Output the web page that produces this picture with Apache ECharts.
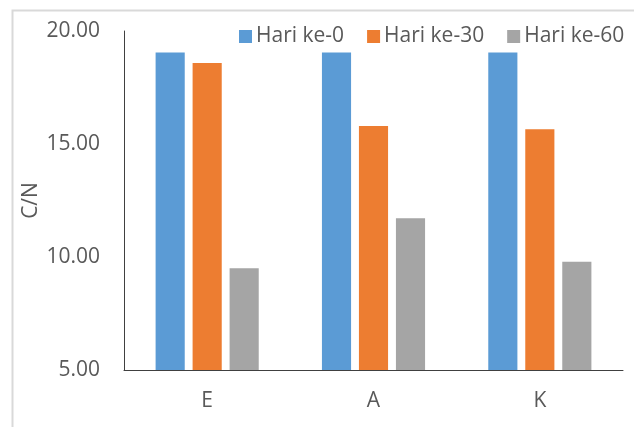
<!DOCTYPE html>
<html>
<head>
<meta charset="utf-8">
<script src="https://cdn.jsdelivr.net/npm/echarts@6/dist/echarts.min.js"></script>
<style>html,body{margin:0;padding:0;background:#fff;}#c{width:634px;height:427px;}</style>
</head>
<body>
<div id="c"></div>
<script>
const categories = ['E', 'A', 'K'];
const seriesNames = ['Hari ke-0', 'Hari ke-30', 'Hari ke-60'];
const hari0 = [19.05, 19.05, 19.05];
const hari30 = [18.58, 15.80, 15.65];
const hari60 = [9.50, 11.71, 9.79];
const yTicks = [5, 10, 15, 20];

const colors = ['#5B9BD5', '#ED7D31', '#A5A5A5'];
const font = 'Open Sans';
const fs = 21;
const chart = echarts.init(document.getElementById('c'));
const values = [hari0, hari30, hari60];
chart.setOption({
  animation: false,
  graphic: [{
    type: 'rect', left: 10, top: 8, silent: true,
    shape: { width: 700, height: 500 },
    style: { fill: 'none', stroke: '#d9d9d9', lineWidth: 2 }
  }],
  legend: {
    left: 234, top: 21, itemWidth: 13, itemHeight: 13, itemGap: 23,
    icon: 'rect',
    textStyle: { fontFamily: font, fontSize: fs, color: '#595959', padding: [0, 0, 0, -1] },
    data: seriesNames
  },
  grid: { left: 124, right: 11, top: 31, bottom: 57 },
  xAxis: {
    type: 'category', data: categories,
    axisLine: { lineStyle: { color: '#404040', width: 1 } },
    axisTick: { show: false },
    axisLabel: { fontFamily: font, fontSize: fs, color: '#595959', margin: 21 }
  },
  yAxis: {
    type: 'value', min: yTicks[0], max: yTicks[yTicks.length - 1], interval: 5,
    name: 'C/N', nameLocation: 'middle', nameGap: 82, nameRotate: 90,
    nameMoveOverlap: false,
    nameTextStyle: { fontFamily: font, fontSize: fs, color: '#595959' },
    axisLine: { show: true, lineStyle: { color: '#404040', width: 1 } },
    axisTick: { show: false },
    splitLine: { show: false },
    axisLabel: { fontFamily: font, fontSize: fs, color: '#595959', margin: 24,
      formatter: v => v.toFixed(2) }
  },
  series: seriesNames.map((n, i) => ({
    name: n, type: 'bar', data: values[i],
    barGap: '27%', barCategoryGap: '38%',
    itemStyle: { color: colors[i] }
  }))
});
</script>
</body>
</html>
